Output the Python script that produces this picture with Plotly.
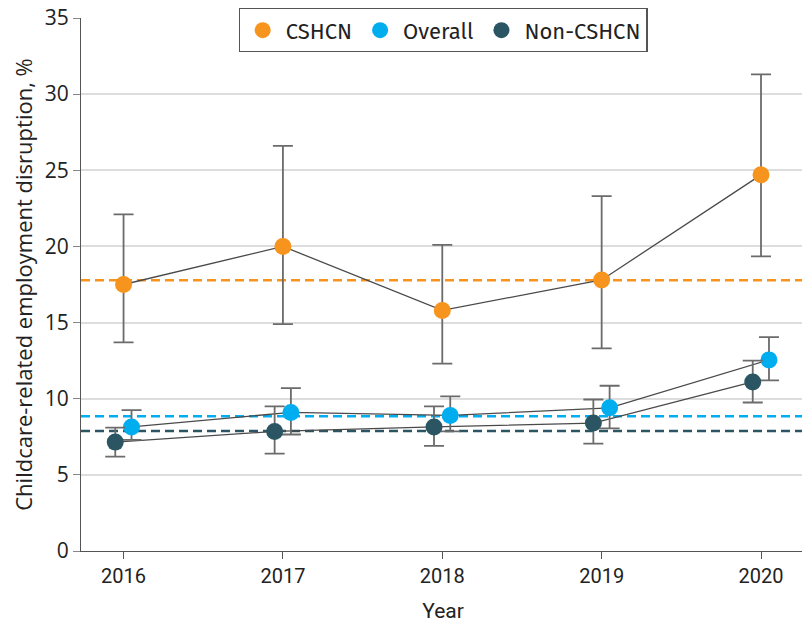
import plotly.graph_objects as go

years = [2016, 2017, 2018, 2019, 2020]

cshcn = [17.5, 20.0, 15.8, 17.8, 24.7]
cshcn_lo = [13.7, 14.9, 12.3, 13.3, 19.35]
cshcn_hi = [22.1, 26.6, 20.1, 23.3, 31.3]

overall = [8.15, 9.1, 8.9, 9.4, 12.55]
overall_lo = [7.3, 7.65, 7.85, 8.05, 11.2]
overall_hi = [9.25, 10.7, 10.15, 10.85, 14.05]

non = [7.15, 7.85, 8.15, 8.4, 11.1]
non_lo = [6.2, 6.4, 6.9, 7.05, 9.75]
non_hi = [8.1, 9.5, 9.5, 9.95, 12.5]

avg_cshcn = 17.78
avg_overall = 8.85
avg_non = 7.88

offsets = {"CSHCN": 0.0, "Overall": 0.05, "Non-CSHCN": -0.052}
colors = {"CSHCN": "#F7941D", "Overall": "#00AEEF", "Non-CSHCN": "#2B5563"}

fig = go.Figure()

series = [
    ("CSHCN", cshcn, cshcn_lo, cshcn_hi),
    ("Overall", overall, overall_lo, overall_hi),
    ("Non-CSHCN", non, non_lo, non_hi),
]

for name, avg in [("CSHCN", avg_cshcn), ("Overall", avg_overall), ("Non-CSHCN", avg_non)]:
    fig.add_shape(type="line", xref="paper", x0=0, x1=1, yref="y", y0=avg, y1=avg,
                  line=dict(color=colors[name], width=2.4, dash="9px,5px"), layer="below")

for name, vals, lo, hi in series:
    xs = [y + offsets[name] for y in years]
    fig.add_trace(go.Scatter(
        x=xs, y=vals, mode="lines", showlegend=False, hoverinfo="skip",
        line=dict(color="#4a4a4a", width=1.3),
    ))

for name, vals, lo, hi in series:
    xs = [y + offsets[name] for y in years]
    fig.add_trace(go.Scatter(
        x=xs, y=vals, name=name, mode="markers",
        marker=dict(color=colors[name], size=17, line=dict(width=0)),
        error_y=dict(type="data", symmetric=False,
                     array=[h - v for h, v in zip(hi, vals)],
                     arrayminus=[v - l for v, l in zip(vals, lo)],
                     color="#6b6b6b", thickness=1.8, width=10),
    ))

fig.update_layout(
    width=802, height=621,
    margin=dict(l=73, r=5, t=10, b=78, autoexpand=False),
    plot_bgcolor="white", paper_bgcolor="white",
    font=dict(family="Open Sans", color="#222"),
    showlegend=True,
    legend=dict(orientation="h", x=0.5, xanchor="center",
                y=1.0185, yanchor="top",
                bgcolor="white", bordercolor="#555", borderwidth=1.2,
                font=dict(size=22, family="Fira Sans, Open Sans"),
                itemwidth=36,
                itemsizing="trace", traceorder="normal"),
    xaxis=dict(range=[2015.733, 2020.276], tickvals=years, ticktext=[str(y) for y in years],
               showgrid=False, zeroline=False, showline=True, linecolor="#555", linewidth=1.2,
               ticks="outside", ticklen=7, tickcolor="#555", automargin=False,
               tickfont=dict(size=20, family="Roboto"),
               title=dict(text="Year", font=dict(size=21, family="Roboto"), standoff=16)),
    yaxis=dict(range=[0, 35], dtick=5, showgrid=True, gridcolor="#dddddd", gridwidth=1.5,
               zeroline=False, showline=True, linecolor="#555", linewidth=1.2,
               ticks="outside", ticklen=7, tickcolor="#888", automargin=False,
               ticklabeloverflow="allow",
               tickfont=dict(size=21, family="Open Sans"),
               title=dict(text="Childcare-related employment disruption, %",
                          font=dict(size=22, family="Open Sans"), standoff=10)),
)

fig.write_html("out.html")
